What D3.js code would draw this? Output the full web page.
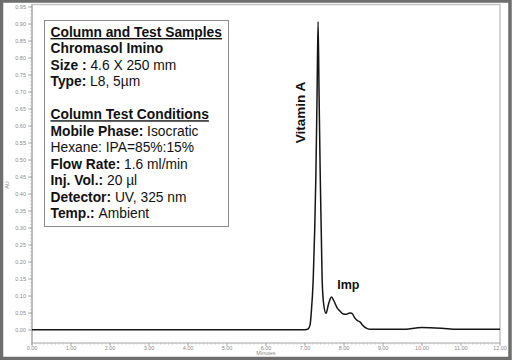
<!DOCTYPE html>
<html><head><meta charset="utf-8">
<script src="https://cdn.jsdelivr.net/npm/d3@7"></script>
<style>body{margin:0;background:#fff}svg{display:block}</style>
</head><body>
<script>
// ---- data ----
const times = [0.00, 7.00, 7.08, 7.13, 7.16, 7.21, 7.25, 7.28, 7.31, 7.335, 7.36, 7.39, 7.42, 7.44, 7.48, 7.54, 7.60, 7.68, 7.74, 7.82, 7.90, 7.98, 8.06, 8.14, 8.20, 8.28, 8.34, 8.41, 8.48, 8.56, 8.66, 9.50, 10.00, 10.50, 10.90, 12.00];
const absorbance = [0.001, 0.001, 0.003, 0.015, 0.050, 0.147, 0.300, 0.460, 0.700, 0.907, 0.700, 0.460, 0.270, 0.147, 0.075, 0.049, 0.075, 0.097, 0.086, 0.066, 0.055, 0.047, 0.046, 0.050, 0.049, 0.035, 0.028, 0.024, 0.014, 0.006, 0.002, 0.002, 0.007, 0.005, 0.002, 0.002];
const yTicks = [0.00,0.05,0.10,0.15,0.20,0.25,0.30,0.35,0.40,0.45,0.50,0.55,0.60,0.65,0.70,0.75,0.80,0.85,0.90,0.95];
const xTicks = [0,1,2,3,4,5,6,7,8,9,10,11,12];
const boxLines = [
  [{t:"Column and Test Samples", b:true, u:true}],
  [{t:"Chromasol Imino", b:true}],
  [{t:"Size : ", b:true},{t:"4.6 X 250 mm"}],
  [{t:"Type: ", b:true},{t:"L8, 5µm"}],
  [],
  [{t:"Column Test Conditions", b:true, u:true}],
  [{t:"Mobile Phase: ", b:true},{t:"Isocratic"}],
  [{t:"Hexane:  IPA=85%:15%"}],
  [{t:"Flow Rate: ", b:true},{t:"1.6 ml/min"}],
  [{t:"Inj. Vol.: ", b:true},{t:"20 µl"}],
  [{t:"Detector: ", b:true},{t:"UV, 325 nm"}],
  [{t:"Temp.: ", b:true},{t:"Ambient"}]
];
const peakLabels = [{t:"Vitamin A", x:7.36, y:0.64, rot:true},{t:"Imp", x:7.75, y:0.118, rot:false}];

const W=513,H=360;
const svg=d3.select("body").append("svg").attr("width",W).attr("height",H);
svg.append("rect").attr("x",1.5).attr("y",1).attr("width",W-4.5).attr("height",H-2.5)
  .attr("fill","#fff").attr("stroke","#6e6e6e").attr("stroke-width",3.5);

const x=d3.scaleLinear().domain([0,12]).range([32,500]);
const y=d3.scaleLinear().domain([0,0.95]).range([330,7]);

// plot frame
svg.append("rect").attr("x",32).attr("y",4.5).attr("width",468).attr("height",338.5)
  .attr("fill","none").attr("stroke","#c4c4c4").attr("stroke-width",1.5);

const font="Liberation Sans, Arial, sans-serif";
// y axis
const gy=svg.append("g").attr("transform","translate(32,0)");
gy.append("line").attr("y1",4.5).attr("y2",345).attr("stroke","#aaa");
gy.selectAll(".minor").data(d3.range(0,0.951,0.01)).join("line")
  .attr("x1",0).attr("x2",-2).attr("y1",d=>y(d)).attr("y2",d=>y(d)).attr("stroke","#bbb").attr("stroke-width",0.7);
gy.selectAll(".maj").data(yTicks).join("line")
  .attr("x1",0).attr("x2",-4).attr("y1",d=>y(d)).attr("y2",d=>y(d)).attr("stroke","#999").attr("stroke-width",0.8);
gy.selectAll("text").data(yTicks).join("text")
  .attr("x",-6).attr("y",d=>y(d)+2).attr("text-anchor","end")
  .attr("font-family",font).attr("font-size",5.5).attr("fill","#8a8a8a").text(d=>d.toFixed(2));

// x axis
const gx=svg.append("g").attr("transform","translate(0,343)");
gx.selectAll(".minor").data(d3.range(0,12.001,0.1)).join("line")
  .attr("x1",d=>x(d)).attr("x2",d=>x(d)).attr("y1",0).attr("y2",1.5).attr("stroke","#bbb").attr("stroke-width",0.7);
gx.selectAll(".maj").data(xTicks).join("line")
  .attr("x1",d=>x(d)).attr("x2",d=>x(d)).attr("y1",0).attr("y2",3).attr("stroke","#999").attr("stroke-width",0.8);
gx.selectAll("text").data(xTicks).join("text")
  .attr("x",d=>x(d)).attr("y",7).attr("text-anchor","middle")
  .attr("font-family",font).attr("font-size",5.5).attr("fill","#8a8a8a").text(d=>d.toFixed(2));
svg.append("text").attr("x",x(6)).attr("y",354.5).attr("text-anchor","middle")
  .attr("font-family",font).attr("font-size",5.5).attr("fill","#8a8a8a").text("Minutes");
svg.append("text").attr("transform","translate(9,185) rotate(-90)").attr("text-anchor","middle")
  .attr("font-family",font).attr("font-size",5.5).attr("fill","#8a8a8a").text("AU");

// trace
const pts=times.map((t,i)=>[t,absorbance[i]]);
svg.append("path").datum(pts).attr("fill","none").attr("stroke","#151515").attr("stroke-width",1.5)
  .attr("stroke-linejoin","round")
  .attr("d",d3.line().x(d=>x(d[0])).y(d=>y(d[1])).curve(d3.curveMonotoneX));

// peak labels
peakLabels.forEach(p=>{
  const t=svg.append("text").attr("font-family",font).attr("font-weight","bold").attr("fill","#111");
  if(p.rot){
    t.attr("transform",`translate(${x(p.x)-14},${y(p.y)}) rotate(-90)`).attr("text-anchor","middle")
     .attr("font-size",13.5).text(p.t);
  } else {
    t.attr("x",x(p.x)+3).attr("y",y(p.y)-0.5).attr("font-size",12.5).text(p.t);
  }
});

// info box
svg.append("rect").attr("x",44.5).attr("y",20.5).attr("width",184).attr("height",206)
  .attr("fill","#fff").attr("stroke","#8c8c8c").attr("stroke-width",1);
const lh=16.45, y0=37;
boxLines.forEach((ln,i)=>{
  if(!ln.length) return;
  const t=svg.append("text").attr("x",50.5).attr("y",y0+i*lh).attr("font-family",font).attr("font-size",13.8).attr("fill","#111");
  ln.forEach(s=>{
    t.append("tspan").attr("font-weight",s.b?"bold":"normal")
     .attr("text-decoration",s.u?"underline":null).text(s.t);
  });
});
</script>
</body></html>
